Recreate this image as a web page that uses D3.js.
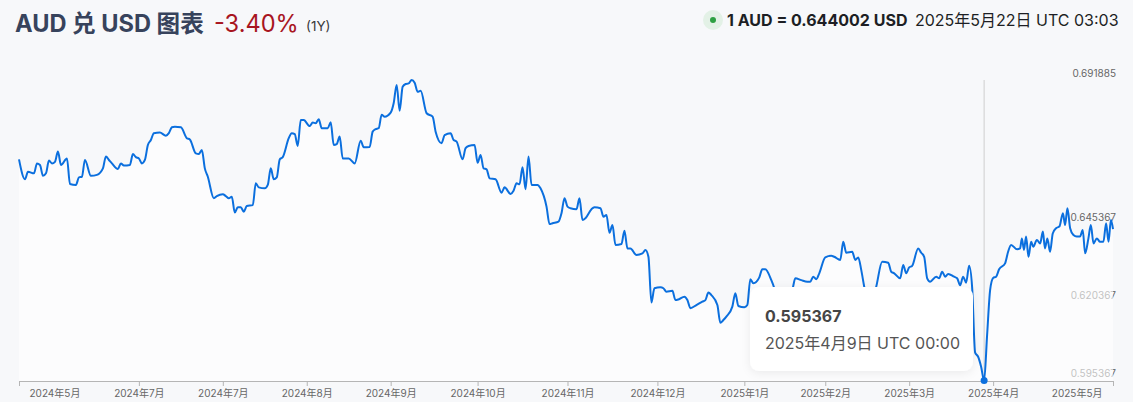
<!DOCTYPE html>
<html><head><meta charset="utf-8">
<script src="https://cdn.jsdelivr.net/npm/d3@7"></script>
<style>
html,body{margin:0;padding:0;background:#f7f8fa;}
svg{display:block;font-family:Inter,"Noto Sans CJK SC",sans-serif;}
</style></head><body>
<svg id="chart" width="1133" height="402"></svg>
<script>
// ---------- data ----------
const startDate = Date.UTC(2024, 4, 22); // 2024-05-22 UTC
const dayOffsets = [0,2,3,5,6,7,8,9,10,11,12,13,14,16,17,19,20,21,22,24,26,28,29,30,31,33,34,35,37,38,39,40,41,42,43,44,45,47,49,50,51,52,54,56,57,59,60,61,62,63,65,66,68,69,70,71,72,73,74,75,76,78,79,80,82,83,84,85,86,87,88,90,91,92,93,94,95,97,98,99,100,101,103,104,105,106,107,108,110,112,114,115,117,118,119,120,121,122,124,125,126,127,128,129,130,131,132,133,134,136,138,139,141,142,144,145,146,148,149,150,152,153,154,155,156,157,159,161,162,164,165,166,167,168,169,170,171,173,174,176,177,178,180,181,182,183,184,186,187,188,189,191,192,194,195,196,197,198,199,201,202,203,204,206,208,209,210,211,212,214,215,216,218,219,220,222,223,224,226,228,229,230,231,233,234,235,236,238,239,240,242,243,244,245,247,248,249,251,252,253,256,258,259,261,263,264,265,266,267,269,271,272,274,275,276,278,279,280,281,282,283,285,286,288,290,291,292,294,295,296,297,298,300,301,302,303,304,306,307,308,309,310,312,313,314,315,316,317,318,319,320,321,322,323,324,325,326,327,329,330,331,333,334,334.6,335.3,336.0,336.8,337.7,338.4,339.6,340.7,341.6,342.3,343.1,344.0,344.9,346.0,347.1,348.3,349.0,349.8,350.7,351.8,352.9,354.0,354.9,355.7,356.8,357.6,358.5,359.6,360.7,361.8,362.7,363.5,364.3,365];
const rates = [0.6664,0.6600,0.6624,0.6619,0.6651,0.6646,0.6611,0.6619,0.6660,0.6651,0.6656,0.6689,0.6646,0.6667,0.6585,0.6582,0.6606,0.6608,0.6662,0.6611,0.6614,0.6635,0.6673,0.6662,0.6651,0.6633,0.6651,0.6644,0.6646,0.6681,0.6671,0.6667,0.6651,0.6662,0.6710,0.6726,0.6748,0.6750,0.6740,0.6748,0.6767,0.6769,0.6767,0.6732,0.6728,0.6683,0.6681,0.6694,0.6635,0.6608,0.6539,0.6546,0.6552,0.6546,0.6539,0.6544,0.6493,0.6510,0.6510,0.6496,0.6514,0.6517,0.6587,0.6574,0.6571,0.6582,0.6635,0.6600,0.6606,0.6664,0.6671,0.6732,0.6748,0.6745,0.6707,0.6790,0.6790,0.6771,0.6782,0.6780,0.6793,0.6764,0.6764,0.6783,0.6710,0.6713,0.6737,0.6667,0.6667,0.6651,0.6724,0.6703,0.6704,0.6753,0.6761,0.6764,0.6807,0.6801,0.6814,0.6844,0.6903,0.6820,0.6897,0.6906,0.6908,0.691885,0.6910,0.6881,0.6884,0.6812,0.6801,0.6753,0.6716,0.6742,0.6748,0.6726,0.6721,0.6664,0.6700,0.6707,0.6710,0.6653,0.6678,0.6635,0.6632,0.6603,0.6600,0.6557,0.6574,0.6553,0.6563,0.6587,0.6584,0.6639,0.6568,0.6673,0.6582,0.6582,0.6571,0.6512,0.6456,0.6459,0.6464,0.6491,0.6539,0.6512,0.6507,0.6504,0.6539,0.6469,0.6475,0.6504,0.6510,0.6507,0.6480,0.6485,0.6428,0.6453,0.6389,0.6392,0.6435,0.6378,0.6378,0.6357,0.6362,0.6373,0.6351,0.6204,0.6250,0.6253,0.6250,0.6239,0.6242,0.6212,0.6214,0.6223,0.6212,0.6186,0.6196,0.6207,0.6212,0.6236,0.6228,0.6196,0.6139,0.6148,0.6159,0.6191,0.6234,0.6193,0.6189,0.6196,0.6279,0.6266,0.6285,0.6311,0.6311,0.6276,0.6250,0.6212,0.6219,0.6244,0.6282,0.6276,0.6271,0.6271,0.6287,0.6279,0.6298,0.6349,0.6354,0.6351,0.6341,0.6399,0.6364,0.6367,0.6341,0.6349,0.6309,0.6255,0.6212,0.6219,0.6255,0.6335,0.6332,0.6303,0.6298,0.6282,0.6325,0.6298,0.6317,0.6322,0.6378,0.6364,0.6351,0.6282,0.6271,0.6287,0.6282,0.6303,0.6287,0.6296,0.6287,0.6282,0.6260,0.6287,0.6268,0.6322,0.6253,0.6043,0.6030,0.5998,0.595367,0.6100,0.6244,0.6283,0.6287,0.6311,0.6330,0.6367,0.6389,0.6375,0.6378,0.6410,0.6373,0.6416,0.6351,0.6399,0.6383,0.6405,0.6394,0.6432,0.6378,0.6410,0.6367,0.6426,0.6443,0.6448,0.6491,0.6453,0.6507,0.6443,0.6421,0.6416,0.6416,0.6437,0.6362,0.6410,0.6453,0.6394,0.6410,0.6399,0.6399,0.6459,0.6399,0.6469,0.6440];
const tickDayOffsets = [0,40,68,96,124,153,183,213,242,269,297,325,365];
const tickLabels = ["2024年5月","2024年7月","2024年7月","2024年8月","2024年9月","2024年10月","2024年11月","2024年12月","2025年1月","2025年2月","2025年3月","2025年4月","2025年5月"];
const yTickValues = [0.595367, 0.620367, 0.645367, 0.691885];
const titleText = "AUD 兑 USD 图表";
const changeText = "-3.40%";
const periodText = "(1Y)";
const rateText = "1 AUD = 0.644002 USD";
const rateTimeText = "2025年5月22日 UTC 03:03";

// ---------- setup ----------
const DAY = 864e5;
const toDate = d => new Date(startDate + d * DAY);
const data = dayOffsets.map((d, i) => ({date: toDate(d), v: rates[i]}));

const svg = d3.select("#chart");
const x = d3.scaleTime().domain([toDate(0), toDate(365)]).range([19, 1113]);
const y = d3.scaleLinear().domain(d3.extent(rates)).range([380.5, 80]);
const axisY = 381;
const lineColor = "#0b6fde";

// header
svg.append("text").attr("x", 15).attr("y", 32).attr("font-size", 23.6).attr("font-weight", 700)
  .attr("fill", "#37435c").text(titleText);
svg.append("text").attr("x", 214).attr("y", 32).attr("font-size", 23.6).attr("fill", "#a8151f").text(changeText);
svg.append("text").attr("x", 306).attr("y", 31).attr("font-size", 13.5).attr("fill", "#3a3a3a").text(periodText);

svg.append("circle").attr("cx", 713).attr("cy", 20).attr("r", 10).attr("fill", "#e3f1e6");
svg.append("circle").attr("cx", 713).attr("cy", 20).attr("r", 3).attr("fill", "#2ea043");
svg.append("text").attr("x", 727).attr("y", 26).attr("font-size", 16).attr("font-weight", 700)
  .attr("fill", "#1d1f24").text(rateText);
svg.append("text").attr("x", 915).attr("y", 26).attr("font-size", 16)
  .attr("fill", "#1d1f24").text(rateTimeText);

// y labels (drawn below area so covered ones look faded)
svg.append("g").selectAll("text").data(yTickValues).join("text")
  .attr("x", 1116).attr("y", d => y(d) - 3.5).attr("text-anchor", "end")
  .attr("font-size", 10).attr("fill", "#666").text(d => d.toFixed(6));

// area
const area = d3.area().x(d => x(d.date)).y0(axisY).y1(d => y(d.v)).curve(d3.curveMonotoneX);
svg.append("path").datum(data).attr("d", area).attr("fill", "#ffffff").attr("fill-opacity", 0.6);

// min point
const minIdx = d3.minIndex(rates);
const minPt = data[minIdx];

// crosshair
svg.append("line").attr("x1", x(minPt.date)).attr("x2", x(minPt.date)).attr("y1", y.range()[1]).attr("y2", axisY)
  .attr("stroke", "#cfcfcf").attr("stroke-width", 1);

// line
const line = d3.line().x(d => x(d.date)).y(d => y(d.v)).curve(d3.curveMonotoneX);
svg.append("path").datum(data).attr("d", line).attr("fill", "none").attr("stroke", lineColor)
  .attr("stroke-width", 2).attr("stroke-linejoin", "round");

// x axis
const xAxis = d3.axisBottom(x).tickValues(tickDayOffsets.map(toDate))
  .tickFormat((d, i) => tickLabels[i]).tickSize(5).tickSizeOuter(0);
const gx = svg.append("g").attr("transform", `translate(0,${axisY})`).call(xAxis);
gx.select(".domain").attr("stroke", "#b5b5b5");
gx.selectAll(".tick line").attr("stroke", "#b5b5b5");
gx.selectAll(".tick text").attr("font-size", 10).attr("fill", "#666")
  .attr("font-family", "Inter,'Noto Sans CJK SC',sans-serif").attr("dy", 0).attr("y", 15.5);
const ticksSel = gx.selectAll(".tick text");
const n = ticksSel.size();
ticksSel.each(function(d, i) {
  if (i === 0) d3.select(this).attr("text-anchor", "start").attr("x", 10);
  if (i === n - 1) d3.select(this).attr("text-anchor", "end").attr("x", -11);
});

// dot
svg.append("circle").attr("cx", x(minPt.date)).attr("cy", y(minPt.v)).attr("r", 3.5).attr("fill", lineColor);

// tooltip
const defs = svg.append("defs");
const f = defs.append("filter").attr("id", "sh").attr("x", "-20%").attr("y", "-30%").attr("width", "140%").attr("height", "160%");
f.append("feDropShadow").attr("dx", 0).attr("dy", 2).attr("stdDeviation", 5).attr("flood-color", "#000").attr("flood-opacity", 0.07);
const tip = svg.append("g").attr("transform", "translate(750,287)");
tip.append("rect").attr("width", 223).attr("height", 84).attr("rx", 9).attr("fill", "#fff").attr("filter", "url(#sh)");
tip.append("text").attr("x", 15).attr("y", 35).attr("font-size", 16).attr("font-weight", 700).attr("fill", "#454545")
  .text(minPt.v.toFixed(6));
tip.append("text").attr("x", 15).attr("y", 62).attr("font-size", 16).attr("fill", "#555")
  .text(d3.utcFormat("%Y年%-m月%-d日 UTC %H:%M")(minPt.date));
</script>
</body></html>
